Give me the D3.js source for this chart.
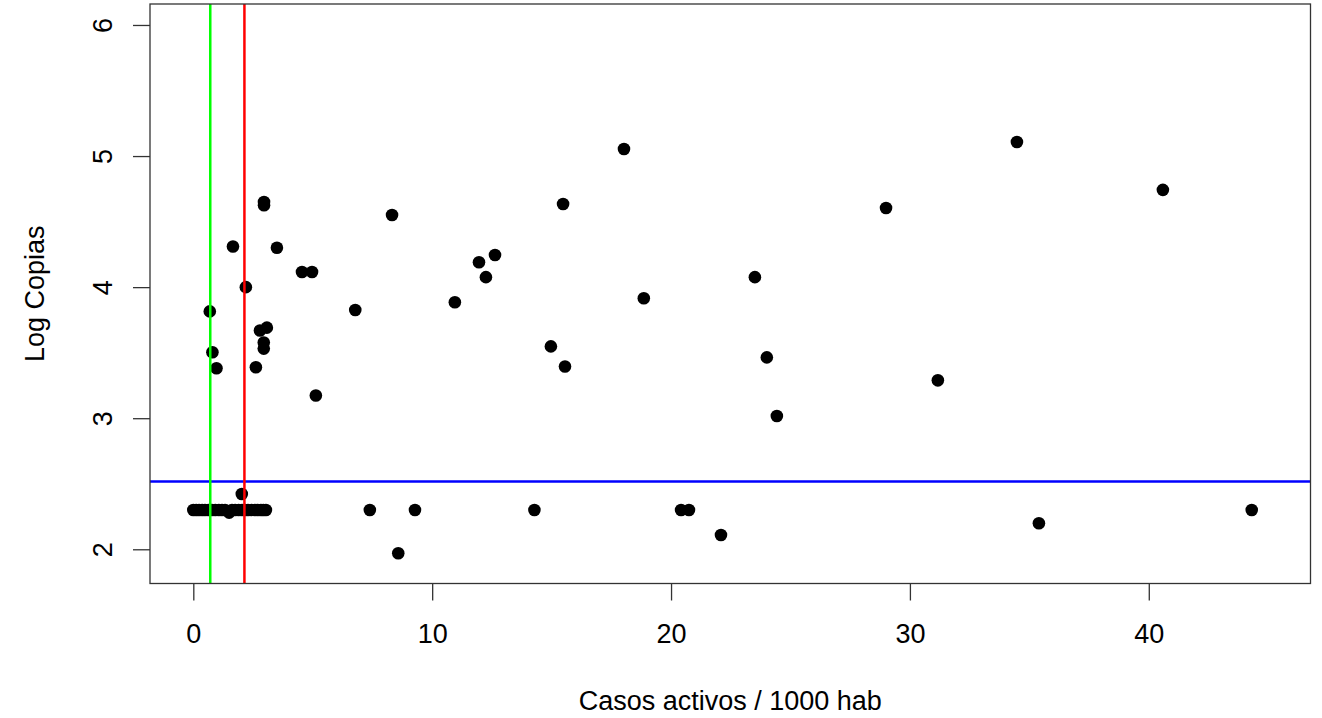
<!DOCTYPE html>
<html>
<head>
<meta charset="utf-8">
<script src="https://cdn.jsdelivr.net/npm/d3@7/dist/d3.min.js"></script>
<style>
  html, body { margin: 0; padding: 0; background: #fff; }
  svg { display: block; }
  text { font-family: "Liberation Sans", Arial, sans-serif; fill: #000; }
</style>
</head>
<body>
<svg id="chart" width="1322" height="718"></svg>
<script>
// Active cases per 1000 inhabitants vs. log viral copies
const casos = [
  34.48, 18.03, 40.59, 2.96, 2.96, 15.48, 29.0, 8.32, 1.66, 3.5,
  4.55, 4.97, 12.63, 11.96, 12.25, 23.51, 2.2, 10.95, 18.86, 0.69,
  6.78, 2.79, 3.08, 2.95, 2.95, 0.80, 0.97, 2.62, 5.13, 14.97,
  15.56, 24.01, 31.17, 24.43,
  2.03,
  0.0, 0.12, 0.24, 0.37, 0.49, 0.63, 0.78, 0.92, 1.07, 1.2, 1.33, 1.5, 1.62, 1.75, 1.9,
  2.04, 2.17, 2.29, 2.44, 2.58, 2.7, 2.83, 2.93, 3.04,
  7.39, 9.28, 14.28, 20.42, 20.75, 44.31,
  8.58, 22.09, 35.4
];
const logCopias = [
  5.107, 5.054, 4.742, 4.65, 4.625, 4.634, 4.604, 4.55, 4.31, 4.30,
  4.115, 4.115, 4.245, 4.19, 4.076, 4.076, 4.00, 3.885, 3.915, 3.815,
  3.826, 3.669, 3.691, 3.577, 3.531, 3.503, 3.381, 3.389, 3.173, 3.548,
  3.395, 3.464, 3.289, 3.017,
  2.422,
  2.30, 2.30, 2.30, 2.30, 2.30, 2.30, 2.30, 2.30, 2.30, 2.30, 2.30, 2.28, 2.30, 2.30, 2.30,
  2.30, 2.30, 2.30, 2.30, 2.30, 2.30, 2.30, 2.30, 2.30,
  2.30, 2.30, 2.30, 2.30, 2.30, 2.30,
  1.97, 2.109, 2.199
];

// Reference lines
const umbralLog = 2.517;      // horizontal threshold
const corteVerde = 0.71;      // vertical cut (green)
const corteRojo = 2.14;       // vertical cut (red)

const xTicks = [0, 10, 20, 30, 40];
const yTicks = [2, 3, 4, 5, 6];
const xLabel = "Casos activos / 1000 hab";
const yLabel = "Log Copias";

const box = { left: 150, right: 1310.5, top: 4, bottom: 583.5 };
const svg = d3.select("#chart");

const x = d3.scaleLinear().domain([-1.813, 46.77]).range([box.left, box.right]);
const y = d3.scaleLinear().domain([1.739, 6.160]).range([box.bottom, box.top]);

const fontSize = 27;
const axisColor = "#333";

// x axis
const gx = svg.append("g")
  .attr("transform", `translate(0,${box.bottom})`)
  .call(d3.axisBottom(x).tickValues(xTicks).tickSize(17).tickFormat(d3.format("d")));
gx.select(".domain").remove();
gx.selectAll(".tick line").attr("stroke", axisColor).attr("stroke-width", 1.3);
gx.selectAll(".tick text")
  .attr("y", 59.5).attr("dy", null)
  .style("font-size", fontSize + "px")
  .attr("font-family", "Liberation Sans, Arial, sans-serif")
  .attr("fill", "#000");

// y axis (labels parallel to the axis)
const gy = svg.append("g")
  .attr("transform", `translate(${box.left},0)`)
  .call(d3.axisLeft(y).tickValues(yTicks).tickSize(17).tickFormat(d3.format("d")));
gy.select(".domain").remove();
gy.selectAll(".tick line").attr("stroke", axisColor).attr("stroke-width", 1.3);
gy.selectAll(".tick text")
  .attr("x", null).attr("dy", null)
  .attr("text-anchor", "middle")
  .attr("transform", "translate(-38,0) rotate(-90)")
  .style("font-size", fontSize + "px")
  .attr("font-family", "Liberation Sans, Arial, sans-serif")
  .attr("fill", "#000");

// axis titles
svg.append("text")
  .attr("x", (box.left + box.right) / 2)
  .attr("y", 710)
  .attr("text-anchor", "middle")
  .style("font-size", fontSize + "px")
  .text(xLabel);

svg.append("text")
  .attr("transform", `translate(44,${(box.top + box.bottom) / 2}) rotate(-90)`)
  .attr("text-anchor", "middle")
  .style("font-size", fontSize + "px")
  .text(yLabel);

// points
const pts = casos.map((c, i) => ({ c, l: logCopias[i] }));
svg.append("g")
  .selectAll("circle")
  .data(pts)
  .join("circle")
  .attr("cx", d => x(d.c))
  .attr("cy", d => y(d.l))
  .attr("r", 6.3)
  .attr("fill", "#000");

// reference lines
svg.append("line")
  .attr("x1", box.left).attr("x2", box.right)
  .attr("y1", y(umbralLog)).attr("y2", y(umbralLog))
  .attr("stroke", "#0000FF").attr("stroke-width", 2.5);

svg.append("line")
  .attr("x1", x(corteVerde)).attr("x2", x(corteVerde))
  .attr("y1", box.top).attr("y2", box.bottom)
  .attr("stroke", "#00FF00").attr("stroke-width", 2.5);

svg.append("line")
  .attr("x1", x(corteRojo)).attr("x2", x(corteRojo))
  .attr("y1", box.top).attr("y2", box.bottom)
  .attr("stroke", "#FF0000").attr("stroke-width", 2.5);

// plot frame
svg.append("rect")
  .attr("x", box.left).attr("y", box.top)
  .attr("width", box.right - box.left).attr("height", box.bottom - box.top)
  .attr("fill", "none")
  .attr("stroke", axisColor).attr("stroke-width", 1.3);
</script>
</body>
</html>
